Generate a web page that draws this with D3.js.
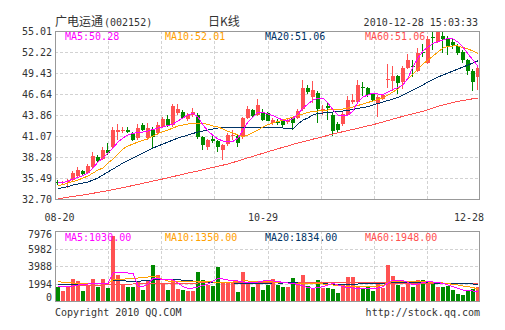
<!DOCTYPE html>
<html><head><meta charset="utf-8">
<script src="https://cdn.jsdelivr.net/npm/d3@7/dist/d3.min.js"></script>
<style>
html,body{margin:0;padding:0;background:#fff;}
svg{display:block;}
</style></head>
<body>
<svg id="chart" width="505" height="330"></svg>
<script>
// ---------- DATA ----------
const stockName = "广电运通";
const stockCode = "(002152)";
const chartType = "日K线";
const timestamp = "2010-12-28 15:03:33";
const copyright = "Copyright 2010 QQ.COM";
const siteUrl = "http://stock.qq.com";

const xTickIndex = [0, 42, 84];
const xTickLabels = ["08-20", "10-29", "12-28"];
const priceTicks = [55.01, 52.22, 49.43, 46.64, 43.86, 41.07, 38.28, 35.49, 32.70];
const volumeTicks = [7976, 5982, 3988, 1994, 0];

const openP = [35.0,34.8,34.9,35.2,35.8,36.4,36.2,36.9,38.3,38.0,39.2,39.6,41.6,41.7,41.9,41.4,40.8,42.5,40.8,42.0,
 41.4,42.3,43.3,42.5,44.1,44.3,43.3,43.9,43.9,40.9,39.6,40.7,40.4,39.2,40.0,41.0,41.0,40.9,43.5,44.5,
 43.9,44.3,44.1,42.8,43.0,43.1,42.9,43.4,43.5,44.6,47.4,46.3,46.8,44.5,45.0,43.8,42.6,42.6,43.9,45.6,
 45.6,47.6,47.5,46.6,45.3,46.0,48.55,48.4,49.0,48.2,50.1,50.3,49.7,52.2,50.8,54.15,53.6,54.4,54.1,53.6,
 53.0,52.2,51.1,49.7,48.9];
const highP = [35.2,35.1,35.3,36.4,36.9,36.6,37.3,38.9,38.6,39.6,40.2,42.2,42.6,42.3,42.2,41.6,42.6,42.8,42.8,42.3,
 42.9,43.6,43.8,45.3,45.3,44.5,44.1,44.8,44.1,41.0,40.7,41.0,40.6,40.0,41.4,41.8,41.2,43.6,45.0,44.7,
 46.0,44.6,44.3,43.5,43.3,43.3,43.4,43.6,44.6,48.5,47.8,48.4,47.0,45.2,45.5,44.2,42.9,44.2,46.4,46.6,
 48.5,48.2,47.6,46.8,46.5,46.7,50.6,50.4,49.2,50.3,52.0,51.2,52.8,53.3,54.3,55.0,55.01,55.0,54.4,54.0,
 53.3,52.5,51.3,50.0,50.4];
const lowP = [34.5,34.6,34.2,35.0,35.6,35.9,36.0,36.7,37.6,37.9,38.5,39.4,40.5,41.4,41.4,40.4,40.6,41.7,40.6,39.5,
 41.2,42.1,42.2,42.3,43.8,43.3,43.0,43.6,40.7,39.2,39.2,40.2,38.9,37.9,39.8,40.5,39.6,40.7,43.3,43.5,
 43.7,43.0,43.0,42.5,42.5,42.2,42.6,41.9,43.3,44.4,46.6,45.4,42.8,43.9,43.2,41.0,41.6,42.4,43.7,45.3,
 45.4,46.4,46.3,45.6,43.6,45.8,47.4,47.0,46.6,47.3,49.9,48.9,49.5,51.6,50.6,52.5,53.4,52.1,51.8,52.6,
 51.8,50.8,49.2,47.0,47.2];
const closeP = [34.8,35.0,35.1,36.2,36.5,36.0,37.1,38.4,37.8,39.2,38.8,41.9,41.8,41.9,41.6,40.6,42.1,41.9,42.1,40.9,
 42.5,43.3,42.4,45.0,44.6,43.5,43.9,44.2,40.9,39.9,40.5,40.4,39.6,39.9,41.2,41.2,40.1,43.4,44.7,43.7,
 45.2,43.2,43.1,43.2,42.8,42.5,43.2,42.8,44.4,47.4,46.9,47.2,44.6,44.7,44.8,41.7,41.9,44.0,45.9,45.9,
 47.9,47.5,46.5,45.9,46.3,46.5,48.6,49.0,48.1,50.1,51.2,50.2,52.1,52.1,54.0,54.05,55.0,53.9,53.0,53.1,
 52.1,51.2,49.7,48.3,50.1];
const volume = [1630,1175,1630,2505,2240,1140,1820,2505,1630,2505,1520,7450,2960,1820,1630,1630,2280,1290,2390,4100,
 2960,1930,1290,2470,1400,1290,1140,1140,3270,2390,1820,1710,3840,2050,2050,2050,1060,3340,2050,1630,
 2200,1290,1820,2470,1820,1630,1630,2580,1820,2960,1710,1480,2390,1480,1520,1400,950,1820,2690,2690,
 1750,1480,1630,1180,2200,1480,4100,2850,1820,1630,2200,1630,2390,2390,2200,2050,1630,1630,1750,1290,
 800,680,1290,1360,1630];

const ma5 = [34.96,34.83,35.09,35.36,35.56,35.82,36.15,36.82,37.61,38.14,38.81,39.47,40.27,40.80,41.20,41.40,41.53,41.60,41.73,41.93,
 42.13,42.26,42.46,42.66,43.06,43.46,43.86,44.05,43.59,42.53,41.73,41.13,40.67,40.40,40.27,40.34,40.80,41.86,42.93,43.59,
 44.25,44.19,43.99,43.79,43.46,43.19,43.12,43.39,43.99,44.78,45.32,45.85,46.05,46.11,45.45,44.52,43.86,43.72,43.86,44.39,
 45.58,46.25,46.51,46.78,46.64,46.58,46.91,47.24,47.51,47.84,48.77,50.23,51.42,52.35,52.89,53.35,53.62,53.81,54.01,53.95,
 53.55,52.89,51.96,51.16,50.28];
const ma10 = [34.49,34.62,34.82,35.02,35.22,35.49,35.75,36.15,36.55,36.82,37.48,38.01,38.68,39.34,39.74,40.00,40.27,40.47,40.73,41.07,
 41.40,41.66,41.86,42.13,42.39,42.53,42.66,42.79,42.79,42.73,42.59,42.39,42.26,41.99,41.66,41.46,41.20,41.00,41.20,41.53,
 41.86,42.26,42.59,42.79,42.99,43.19,43.39,43.59,43.79,43.99,44.19,44.32,44.39,44.45,44.52,44.52,44.59,44.65,44.78,44.92,
 45.12,45.32,45.52,45.72,45.92,46.11,46.51,46.91,47.31,47.97,48.64,49.30,49.96,50.63,51.16,51.69,52.22,52.75,52.95,53.02,
 53.02,52.82,52.62,52.35,52.01];
const ma20 = [34.09,34.22,34.36,34.56,34.69,34.82,34.96,35.22,35.49,35.89,36.29,36.68,37.08,37.48,37.81,38.14,38.48,38.81,39.14,39.47,
 39.74,40.00,40.27,40.53,40.80,41.00,41.20,41.40,41.60,41.73,41.86,41.99,42.13,42.19,42.19,42.19,42.19,42.13,42.13,42.19,
 42.19,42.26,42.26,42.19,42.13,42.13,42.06,41.99,42.66,43.19,43.46,43.86,44.05,44.12,44.19,44.25,44.32,44.39,44.45,44.59,
 44.72,44.85,44.98,45.18,45.38,45.58,45.78,45.98,46.18,46.51,46.84,47.17,47.51,47.84,48.24,48.57,48.90,49.17,49.43,49.70,
 49.96,50.23,50.49,50.76,51.06];
const ma60 = [32.74,32.83,32.94,33.03,33.14,33.23,33.35,33.46,33.58,33.68,33.80,33.94,34.08,34.21,34.36,34.49,34.64,34.78,34.93,35.08,
 35.22,35.37,35.53,35.68,35.83,35.98,36.14,36.29,36.43,36.59,36.74,36.90,37.05,37.20,37.35,37.55,37.76,37.96,38.17,38.37,
 38.57,38.78,38.98,39.18,39.37,39.57,39.75,39.95,40.14,40.31,40.48,40.65,40.81,40.98,41.15,41.33,41.49,41.64,41.80,41.94,
 42.10,42.26,42.41,42.57,42.75,42.94,43.12,43.31,43.50,43.68,43.85,44.01,44.19,44.35,44.57,44.78,45.01,45.18,45.34,45.51,
 45.67,45.78,45.90,46.01,46.11];

const vma5 = [1709,1675,1650,1709,1823,1880,1937,1994,2015,2015,1994,3190,3225,3225,3190,3155,1709,1650,1937,2586,
 2563,2450,2393,2393,2051,1650,1447,1481,1595,1766,1937,2279,2586,2507,2393,2336,2279,2165,2051,2108,
 2165,2279,2313,2279,2222,2108,2051,1994,1880,1709,1538,1447,1538,1629,1823,2017,1823,1629,1538,1481,
 1447,1447,1447,1447,1481,1629,2051,2393,2359,2313,2108,1823,1937,2108,2199,2165,2108,1994,1823,1650,
 1424,1253,1196,1139,1030];
const vma10 = [2199,2142,2085,2051,2028,2017,2017,2017,2017,2017,2028,2393,2427,2484,2541,2586,2621,2677,2735,2769,
 2735,2450,2279,2222,2199,2199,2199,2199,2199,2199,2199,2165,2108,2085,2108,2165,2222,2279,2279,2222,
 2199,2199,2199,2165,2108,2085,2051,2051,2028,2017,1994,1971,1960,1937,1880,1823,1766,1709,1650,1629,
 1629,1650,1675,1686,1709,1766,2108,2199,2199,2199,2199,2199,2199,2188,2165,2108,2085,2051,1994,1880,
 1823,1709,1629,1538,1350];
const vma20 = [1823,1846,1869,1891,1914,1937,1960,1983,2005,2017,2017,2393,2359,2313,2256,2199,2245,2302,2347,2393,
 2427,2450,2473,2450,2416,2370,2324,2279,2233,2199,2165,2108,2085,2074,2062,2051,2040,2028,2017,2017,
 2017,2028,2040,2051,2051,2051,2062,2062,2051,2051,2051,2028,1994,1960,1937,1903,1903,1903,1914,1937,
 1937,1960,1983,1994,2005,2017,2051,2074,2085,2085,2085,2085,2085,2085,2074,2051,2040,2017,2005,1994,
 1983,1971,1960,1937,1834];
const vma60 = [1629,1650,1675,1697,1720,1743,1766,1789,1812,1823,1834,1891,1903,1914,1926,1937,1940,1945,1950,1960,
 1970,1980,1990,2000,2010,2020,2030,2040,2050,2060,2070,2080,2090,2100,2105,2110,2115,2120,2125,2130,
 2135,2140,2145,2150,2150,2150,2150,2145,2140,2135,2130,2125,2120,2115,2110,2105,2100,2095,2090,2085,
 2080,2075,2070,2065,2060,2055,2050,2045,2040,2035,2030,2025,2020,2015,2010,2005,2000,1995,1990,1985,
 1980,1972,1965,1957,1948];

const maNames = ["MA5", "MA10", "MA20", "MA60"];
const maColors = ["#ff00ff", "#ffa000", "#003366", "#ff5050"];
const maPriceLegend = ["50.28", "52.01", "51.06", "51.06"];
const maVolLegend = ["1030.00", "1350.00", "1834.00", "1948.00"];

// ---------- LAYOUT ----------
const L = 55, R = 480;
const mainTop = 31, mainBot = 199;
const volTop = 231, volBot = 301;
const UP = "#ff5252", DOWN = "#008a00";
const MONO = "'DejaVu Sans Mono', 'Liberation Mono', monospace";
const CJK = "'Noto Sans CJK SC', 'Noto Sans', sans-serif";

const svg = d3.select("#chart");
const n = closeP.length;
const idx = d3.range(n);

const x = d3.scaleBand().domain(idx).range([L, R]).padding(0);
const xc = i => x(i) + x.bandwidth() / 2 + 0.5;
const y = d3.scaleLinear().domain([32.70, 55.01]).range([mainBot, mainTop]);
const yv = d3.scaleLinear().domain([0, 7976]).range([volBot, volTop]);

function panel(top, bot, yTicksPx) {
  const g = svg.append("g");
  const step = (R - L) / 8;
  d3.range(1, 8).forEach(k => {
    const gx = Math.round(L + k * step) + 0.5;
    g.append("line").attr("x1", gx).attr("x2", gx).attr("y1", top).attr("y2", bot)
      .attr("stroke", "#d2d2d2").attr("stroke-dasharray", "3,2");
  });
  yTicksPx.forEach(py => {
    const yy = Math.round(py) + 0.5;
    if (yy <= top + 1 || yy >= bot - 1) return;
    g.append("line").attr("x1", L).attr("x2", R).attr("y1", yy).attr("y2", yy)
      .attr("stroke", "#d2d2d2").attr("stroke-dasharray", "3,2");
  });
  return g;
}

panel(mainTop, mainBot, priceTicks.map(v => y(v)));
panel(volTop, volBot, volumeTicks.map(v => yv(v)));

const defs = svg.append("defs");
defs.append("clipPath").attr("id", "clipMain").append("rect")
  .attr("x", L).attr("y", mainTop).attr("width", R - L).attr("height", mainBot - mainTop);
defs.append("clipPath").attr("id", "clipVol").append("rect")
  .attr("x", L).attr("y", volTop).attr("width", R - L).attr("height", volBot - volTop);

// ---------- CANDLES ----------
const gC = svg.append("g").attr("clip-path", "url(#clipMain)");
idx.forEach(i => {
  const up = closeP[i] >= openP[i];
  const col = up ? UP : DOWN;
  const bx = x(i) + 1, bw = x.bandwidth() - 1;
  const wx = x(i) + 2;
  const yH = Math.round(y(highP[i])), yL = Math.round(y(lowP[i]));
  gC.append("rect").attr("x", wx).attr("y", yH).attr("width", 1).attr("height", Math.max(1, yL - yH))
    .attr("fill", col).attr("shape-rendering", "crispEdges");
  const yT = Math.round(y(Math.max(openP[i], closeP[i])));
  const yB = Math.round(y(Math.min(openP[i], closeP[i])));
  gC.append("rect").attr("x", bx).attr("y", yT).attr("width", bw).attr("height", Math.max(1, yB - yT))
    .attr("fill", col).attr("shape-rendering", "crispEdges");
});

const maSeries = [ma5, ma10, ma20, ma60];
const lineP = d3.line().x((d, i) => xc(i)).y(d => y(d));
[3, 2, 1, 0].forEach(k => {
  gC.append("path").datum(maSeries[k]).attr("d", lineP).attr("fill", "none")
    .attr("stroke", maColors[k]).attr("stroke-width", 1).attr("shape-rendering", "crispEdges");
});

// ---------- VOLUME ----------
const gV = svg.append("g").attr("clip-path", "url(#clipVol)");
idx.forEach(i => {
  const up = closeP[i] >= openP[i];
  const top = Math.round(yv(volume[i]));
  gV.append("rect").attr("x", x(i) + 1).attr("y", top).attr("width", x.bandwidth() - 1)
    .attr("height", volBot - top).attr("fill", up ? UP : DOWN).attr("shape-rendering", "crispEdges");
});
const vSeries = [vma5, vma10, vma20, vma60];
const lineV = d3.line().x((d, i) => xc(i)).y(d => yv(d));
[3, 2, 1, 0].forEach(k => {
  gV.append("path").datum(vSeries[k]).attr("d", lineV).attr("fill", "none")
    .attr("stroke", maColors[k]).attr("stroke-width", 1).attr("shape-rendering", "crispEdges");
});

[[mainTop, mainBot], [volTop, volBot]].forEach(([t, b]) => {
  svg.append("rect").attr("x", L + 0.5).attr("y", t + 0.5).attr("width", R - L - 1).attr("height", b - t)
    .attr("fill", "none").attr("stroke", "#999").attr("shape-rendering", "crispEdges");
});

// ---------- TEXT ----------
const txt = (s, tx, ty, opts = {}) => svg.append("text").text(s).attr("x", tx).attr("y", ty)
  .attr("font-family", opts.font || MONO).attr("font-size", opts.size || 10)
  .attr("fill", opts.fill || "#333").attr("text-anchor", opts.anchor || "start");

const title = svg.append("text").attr("x", L).attr("y", 26).attr("fill", "#333");
title.append("tspan").text(stockName).attr("font-family", CJK).attr("font-size", 12);
title.append("tspan").text(stockCode).attr("font-family", MONO).attr("font-size", 10).attr("dx", 1);
txt(chartType, 208, 26, {font: CJK, size: 12});
txt(timestamp, 478, 26, {anchor: "end"});

priceTicks.forEach(v => {
  txt(v.toFixed(2), 52, y(v) + 4, {anchor: "end"});
});
volumeTicks.forEach(v => {
  const py = Math.min(Math.max(yv(v), volTop + 3), volBot - 4);
  txt(String(v), 52, py + 4, {anchor: "end"});
});

const xShift = [1.5, -5, -9];
xTickIndex.forEach((ti, k) => {
  txt(xTickLabels[k], xc(ti) + xShift[k], 221, {anchor: "middle"});
});

maNames.forEach((nm, k) => {
  txt(nm + ":" + maPriceLegend[k], 65 + k * 100, 40, {fill: maColors[k]});
  txt(nm + ":" + maVolLegend[k], 65 + k * 100, 241, {fill: maColors[k]});
});

txt(copyright, L, 316);
txt(siteUrl, R, 316, {anchor: "end"});
</script>
</body></html>
